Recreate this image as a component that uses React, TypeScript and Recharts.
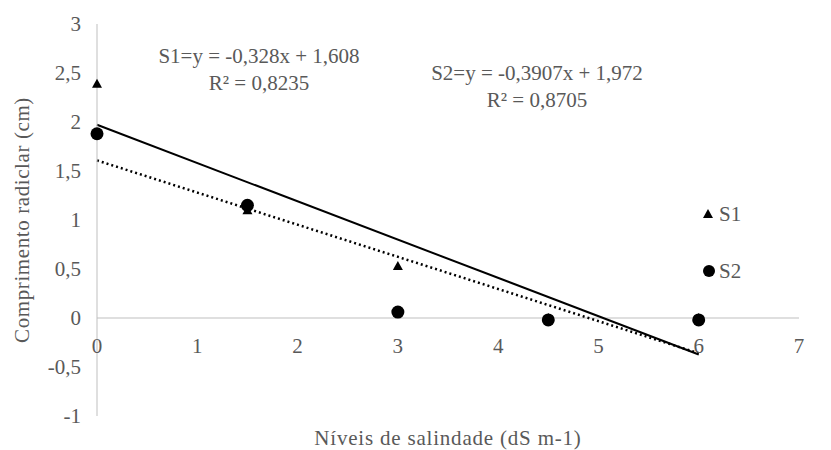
import React from 'react';
import {
  ComposedChart,
  Scatter,
  Line,
  XAxis,
  YAxis,
  ReferenceLine,
  ReferenceDot,
  Legend,
} from 'recharts';

// ─── Data ────────────────────────────────────────────
const salinity = [0, 1.5, 3, 4.5, 6];
const s1Values = [2.39, 1.1, 0.53, 0, 0];
const s2Values = [1.88, 1.15, 0.06, -0.02, -0.02];

// regression fits as printed on the chart
const s1Fit = { slope: -0.328, intercept: 1.608 };
const s2Fit = { slope: -0.3907, intercept: 1.972 };
const fitRange = [0, 6];

const xTicks = [0, 1, 2, 3, 4, 5, 6, 7];
const yTicks = [-1, -0.5, 0, 0.5, 1, 1.5, 2, 2.5, 3];

const s1Data = salinity.map((x, i) => ({ x, y: s1Values[i] }));
const s2Data = salinity.map((x, i) => ({ x, y: s2Values[i] }));
const fitLine = (f: { slope: number; intercept: number }) =>
  fitRange.map((x) => ({ x, y: f.slope * x + f.intercept }));

// ─── Styles ────────────────────────────────────────────
const FONT = '"Liberation Serif", "Times New Roman", serif';
const TEXT = '#595959';
const AXIS = '#bfbfbf';

const fmt = (v: number) => String(v).replace('.', ',');

function TriangleDot({ cx, cy }: any) {
  return <polygon points={`${cx},${cy - 5} ${cx + 5},${cy + 4} ${cx - 5},${cy + 4}`} fill="#000" />;
}

function CircleDot({ cx, cy }: any) {
  return <circle cx={cx} cy={cy} r={6.5} fill="#000" />;
}

function LegendContent() {
  const row: React.CSSProperties = { display: 'flex', alignItems: 'center', height: 24 };
  return (
    <div style={{ fontFamily: FONT, fontSize: 21, color: TEXT }}>
      <div style={row}>
        <svg width={14} height={14} style={{ marginRight: 4 }}>
          <polygon points="7,2 12,11 2,11" fill="#000" />
        </svg>
        S1
      </div>
      <div style={{ ...row, marginTop: 33 }}>
        <svg width={16} height={16} style={{ marginRight: 2 }}>
          <circle cx={8} cy={8} r={6} fill="#000" />
        </svg>
        S2
      </div>
    </div>
  );
}

const note: React.CSSProperties = {
  position: 'absolute',
  fontFamily: FONT,
  fontSize: 21,
  color: TEXT,
  textAlign: 'center',
  lineHeight: '27px',
  whiteSpace: 'nowrap',
  transform: 'translateX(-50%)',
};

export default function App() {
  return (
    <div style={{ position: 'absolute', left: 0, top: 0, width: 831, height: 450, background: '#fff' }}>
      <ComposedChart
        width={831}
        height={450}
        margin={{ top: 24, right: 32, bottom: 0, left: 0 }}
        style={{ fontFamily: FONT }}
      >
        <XAxis
          type="number"
          dataKey="x"
          domain={[0, 7]}
          ticks={xTicks}
          axisLine={false}
          tickLine={false}
          tick={false}
          height={34}
          label={{
            value: 'Níveis de salindade (dS m-1)',
            position: 'insideBottom',
            offset: 5,
            fill: TEXT,
            fontSize: 21,
            letterSpacing: 0.8,
          }}
        />
        <YAxis
          type="number"
          dataKey="y"
          domain={[-1, 3]}
          ticks={yTicks}
          width={97}
          axisLine={{ stroke: AXIS }}
          tickLine={false}
          tickSize={0}
          tickMargin={16}
          tickFormatter={fmt}
          tick={{ fill: TEXT, fontSize: 21 }}
          label={{
            value: 'Comprimento radiclar (cm)',
            angle: -90,
            position: 'insideLeft',
            offset: 22,
            fill: TEXT,
            fontSize: 21,
            letterSpacing: 0.6,
            style: { textAnchor: 'middle' },
          }}
        />
        <ReferenceLine y={0} stroke={AXIS} strokeWidth={1} />
        {xTicks.map((t) => (
          <ReferenceDot
            key={t}
            x={t}
            y={0}
            r={0}
            fill="none"
            stroke="none"
            label={{ value: fmt(t), position: 'bottom', offset: 20, fill: TEXT, fontSize: 21 }}
          />
        ))}
        <Line
          data={fitLine(s2Fit)}
          dataKey="y"
          stroke="#000"
          strokeWidth={2}
          dot={false}
          activeDot={false}
          isAnimationActive={false}
          legendType="none"
        />
        <Line
          data={fitLine(s1Fit)}
          dataKey="y"
          stroke="#000"
          strokeWidth={2.5}
          strokeDasharray="2 3"
          dot={false}
          activeDot={false}
          isAnimationActive={false}
          legendType="none"
        />
        <Scatter name="S1" data={s1Data} dataKey="y" shape={<TriangleDot />} fill="#000" isAnimationActive={false} />
        <Scatter name="S2" data={s2Data} dataKey="y" shape={<CircleDot />} fill="#000" isAnimationActive={false} />
        <Legend
          layout="vertical"
          align="center"
          verticalAlign="middle"
          content={<LegendContent />}
          wrapperStyle={{ left: 701, top: 202, width: 'auto' }}
        />
      </ComposedChart>
      <div style={{ ...note, left: 259, top: 43 }}>
        S1=y = -0,328x + 1,608
        <br />
        R² = 0,8235
      </div>
      <div style={{ ...note, left: 537, top: 60 }}>
        S2=y = -0,3907x + 1,972
        <br />
        R² = 0,8705
      </div>
    </div>
  );
}
